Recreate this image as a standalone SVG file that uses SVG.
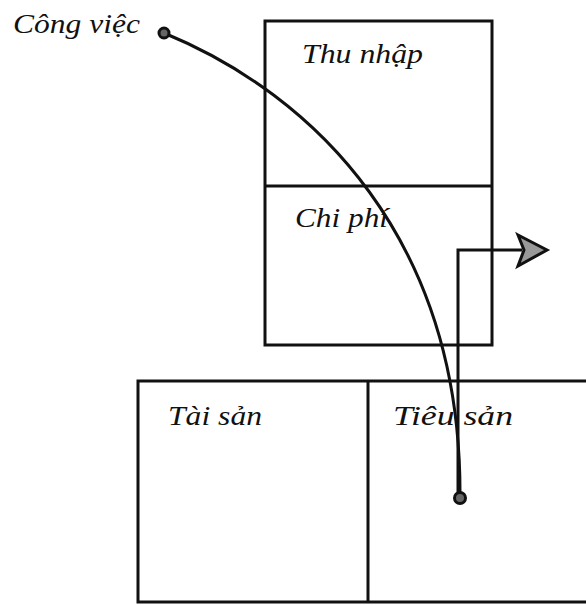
<svg xmlns="http://www.w3.org/2000/svg" width="586" height="605" viewBox="0 0 586 605">
<style>
.box{fill:none;stroke:#111;stroke-width:3}
.lbl{font-family:"Liberation Serif","DejaVu Serif",serif;font-style:italic;font-size:28px;fill:#111}
.wire{fill:none;stroke:#111;stroke-width:3}
.dot{fill:#666;stroke:#111;stroke-width:3}
</style>
<rect width="586" height="605" fill="#fff"/>
<g id="income-statement">
<rect class="box" x="265" y="21" width="227" height="324"/>
<line class="box" x1="265" y1="186" x2="492" y2="186"/>
</g>
<g id="thu-nhap"><text class="lbl" x="302" y="63" textLength="121" lengthAdjust="spacingAndGlyphs">Thu nhập</text></g>
<g id="chi-phi"><text class="lbl" x="295" y="227" textLength="93" lengthAdjust="spacingAndGlyphs">Chi phí</text></g>
<g id="balance-sheet">
<path class="box" d="M587,381 H138 V602 H587 M368,381 V602"/>
</g>
<g id="tai-san"><text class="lbl" x="168" y="425" textLength="94" lengthAdjust="spacingAndGlyphs">Tài sản</text></g>
<g id="tieu-san"><text class="lbl" x="393" y="425" textLength="120" lengthAdjust="spacingAndGlyphs">Tiêu sản</text></g>
<g id="cong-viec"><text class="lbl" x="13" y="33" textLength="127" lengthAdjust="spacingAndGlyphs">Công việc</text></g>
<g id="connectors">
<path class="wire" d="M164,33 C315,95 462,240 460,498"/>
<path class="wire" d="M458,498 V250 H522"/>
<path d="M518,235 L547,250 L518,266 L524,250 Z" fill="#999" stroke="#111" stroke-width="3" stroke-linejoin="miter"/>
<circle class="dot" cx="164" cy="33" r="5"/>
<circle class="dot" cx="460" cy="498" r="5.5"/>
</g>
</svg>
